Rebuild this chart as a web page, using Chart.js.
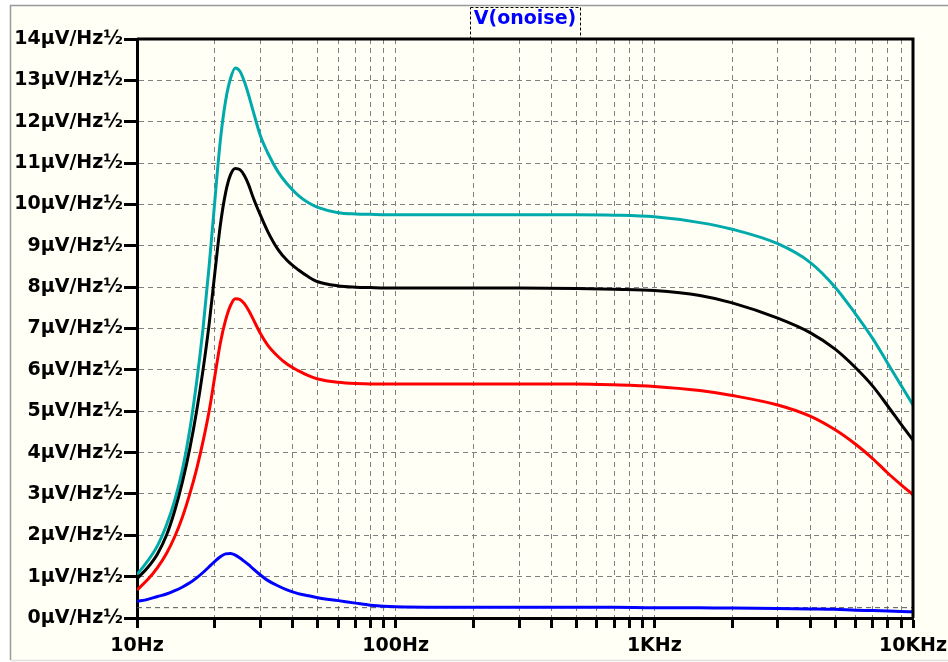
<!DOCTYPE html>
<html><head><meta charset="utf-8">
<script src="https://cdn.jsdelivr.net/npm/chart.js@4.4.1/dist/chart.umd.min.js"></script>
<style>html,body{margin:0;padding:0;background:#fff;}canvas{display:block;}</style>
</head><body>
<canvas id="c" width="948" height="662"></canvas>
<script>
// ---- data ----
const freqs = [10,11,12,13,14,15,16,17,18,19,20,21,22,23,24,25,26,27,28,30,32,35,38,42,46,50,60,70,80,100,150,200,300,500,700,1000,1500,2000,3000,4000,5000,6000,7000,8000,9000,10000];
const cyanVals  = [1.05,1.38,1.75,2.25,2.85,3.6,4.55,5.7,7.0,8.5,10.1,11.55,12.5,13.05,13.3,13.22,12.97,12.65,12.3,11.66,11.25,10.8,10.5,10.22,10.04,9.93,9.8,9.77,9.76,9.75,9.75,9.75,9.75,9.75,9.74,9.7,9.56,9.4,9.05,8.6,8.0,7.35,6.75,6.15,5.62,5.15];
const blackVals = [0.95,1.22,1.55,2.0,2.6,3.3,4.1,5.0,6.0,7.1,8.35,9.5,10.28,10.72,10.87,10.84,10.7,10.48,10.2,9.74,9.35,8.92,8.65,8.42,8.25,8.13,8.03,8.0,7.99,7.98,7.98,7.98,7.98,7.97,7.95,7.92,7.8,7.62,7.25,6.9,6.5,6.05,5.6,5.12,4.68,4.3];
const redVals   = [0.68,0.93,1.22,1.56,1.97,2.45,3.0,3.6,4.27,5.0,5.85,6.65,7.2,7.56,7.72,7.7,7.6,7.44,7.25,6.88,6.6,6.33,6.14,5.98,5.86,5.78,5.7,5.67,5.66,5.66,5.66,5.66,5.66,5.66,5.64,5.6,5.5,5.38,5.15,4.88,4.55,4.2,3.85,3.5,3.22,2.98];
const blueVals  = [0.4,0.45,0.52,0.58,0.66,0.75,0.85,0.97,1.1,1.24,1.37,1.48,1.55,1.56,1.52,1.45,1.37,1.29,1.2,1.04,0.91,0.78,0.68,0.59,0.54,0.49,0.42,0.36,0.31,0.27,0.26,0.26,0.26,0.26,0.26,0.25,0.25,0.24,0.23,0.22,0.21,0.19,0.18,0.17,0.16,0.15];
const refFreqs  = [10,10000];
const refVals   = [0.25,0.25];
const xTickValues = [10,20,30,40,50,60,70,80,90,100,200,300,400,500,600,700,800,900,1000,2000,3000,4000,5000,6000,7000,8000,9000,10000];
const xTickLabels = {10:'10Hz',100:'100Hz',1000:'1KHz',10000:'10KHz'};
const yUnit = 'µV/Hz½';
const titleText = 'V(onoise)';

const pts = (xs, ys) => xs.map((f, i) => ({x: f, y: ys[i]}));
const FONT = 'DejaVu Sans';

const bgPlugin = {
  id: 'bg',
  beforeDraw(chart) {
    const ctx = chart.ctx;
    ctx.save();
    ctx.fillStyle = '#ffffff';
    ctx.fillRect(0, 0, chart.width, chart.height);
    ctx.fillStyle = '#fffff6';
    ctx.fillRect(11, 6, chart.width - 11, chart.height - 8);
    ctx.strokeStyle = '#9a9a9a';
    ctx.lineWidth = 1.5;
    ctx.beginPath();
    ctx.moveTo(10.5, chart.height - 2); ctx.lineTo(10.5, 5.5); ctx.lineTo(chart.width, 5.5);
    ctx.stroke();
    ctx.strokeStyle = '#e0e0e0';
    ctx.beginPath(); ctx.moveTo(10.5, chart.height - 1.5); ctx.lineTo(chart.width, chart.height - 1.5); ctx.stroke();
    ctx.restore();
  },
  afterDraw(chart) {
    const ctx = chart.ctx, a = chart.chartArea;
    ctx.save();
    ctx.strokeStyle = '#000';
    ctx.lineWidth = 3;
    ctx.beginPath();
    ctx.moveTo(a.left, a.top); ctx.lineTo(a.right, a.top); ctx.lineTo(a.right, a.bottom);
    ctx.stroke();
    // dotted box around title
    ctx.font = 'bold 19px "' + FONT + '"';
    const w = ctx.measureText(titleText).width;
    const cx = (a.left + a.right) / 2;
    ctx.lineWidth = 1;
    ctx.setLineDash([3, 2]);
    ctx.strokeRect(Math.round(cx - w / 2 - 4) + 0.5, 7.5, Math.round(w + 8), a.top - 8);
    ctx.restore();
  }
};

const lineDs = (label, data, color, extra) => Object.assign({
  label, data, borderColor: color, backgroundColor: color, borderWidth: 3,
  pointRadius: 0, fill: false, cubicInterpolationMode: 'monotone'
}, extra || {});

new Chart(document.getElementById('c'), {
  type: 'line',
  data: {
    datasets: [
      lineDs('blue', pts(freqs, blueVals), '#0000ff'),
      lineDs('red', pts(freqs, redVals), '#ff0000'),
      lineDs('black', pts(freqs, blackVals), '#000000'),
      lineDs('cyan', pts(freqs, cyanVals), '#00aaaa'),
      lineDs('ref', pts(refFreqs, refVals), '#555555', {borderWidth: 1, borderDash: [5, 4], cubicInterpolationMode: 'default'})
    ]
  },
  options: {
    responsive: false,
    animation: false,
    devicePixelRatio: 1,
    layout: {padding: {left: 0, right: 35, top: 0, bottom: 0}},
    plugins: {
      legend: {display: false},
      tooltip: {enabled: false},
      title: {
        display: true, text: titleText, color: '#0000ff', fullSize: false,
        font: {family: FONT, size: 19, weight: 'bold', lineHeight: 1.2},
        padding: {top: 8, bottom: 8.2}
      }
    },
    scales: {
      x: {
        type: 'logarithmic', min: 10, max: 10000,
        afterBuildTicks(axis) { axis.ticks = xTickValues.map(v => ({value: v})); },
        afterFit(s) { s.height = 44; s.paddingLeft = 0; s.paddingRight = 0; },
        ticks: {
          autoSkip: false, maxRotation: 0, minRotation: 0, padding: 7, color: '#000',
          font: {family: FONT, size: 19, weight: 'bold'},
          callback: (v) => xTickLabels[v] || ''
        },
        grid: {color: '#808080', lineWidth: 1, tickLength: 10, tickColor: '#000', tickWidth: 3, tickBorderDash: []},
        border: {display: true, color: '#000', width: 3, dash: [5, 4]}
      },
      y: {
        min: 0, max: 14,
        afterFit(s) { s.width = 137; },
        ticks: {
          stepSize: 1, padding: 1, color: '#000',
          font: {family: FONT, size: 19, weight: 'bold'},
          callback: (v) => v + yUnit
        },
        grid: {color: '#808080', lineWidth: 1, tickLength: 13, tickColor: '#000', tickWidth: 3, tickBorderDash: []},
        border: {display: true, color: '#000', width: 3, dash: [5, 4]}
      }
    }
  },
  plugins: [bgPlugin]
});
</script>
</body></html>
